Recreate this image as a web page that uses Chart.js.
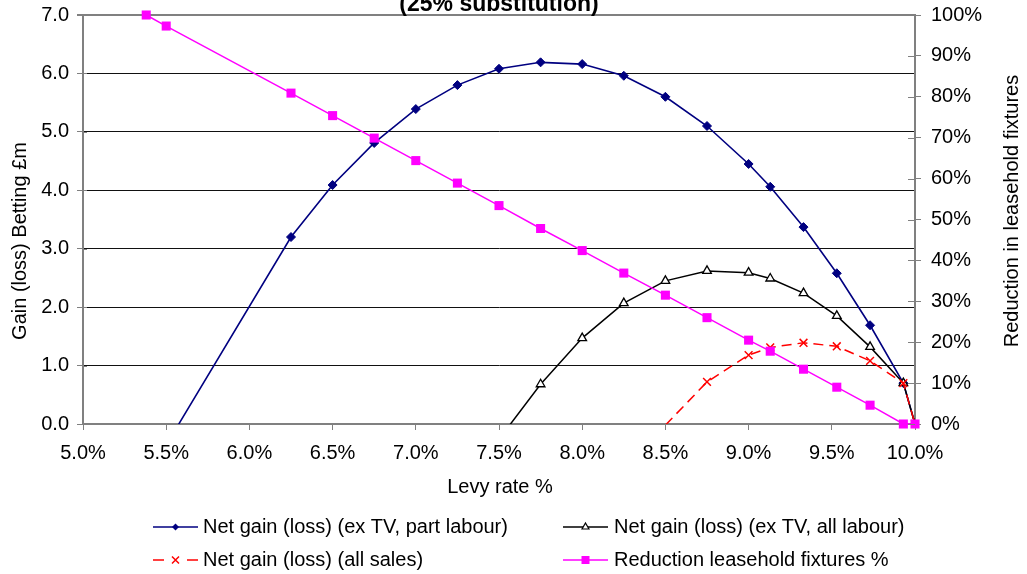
<!DOCTYPE html>
<html>
<head>
<meta charset="utf-8">
<script src="https://cdn.jsdelivr.net/npm/chart.js@4/dist/chart.umd.min.js"></script>
<style>
  html, body { margin: 0; padding: 0; background: #fff; }
  canvas { display: block; }
</style>
</head>
<body>
<canvas id="chart" width="1027" height="574"></canvas>
<script>
// Levy rate (%) at which each scenario was evaluated
const levyRate = [5.38, 5.5, 6.25, 6.5, 6.75, 7.0, 7.25, 7.5, 7.75, 8.0, 8.25, 8.5, 8.75, 9.0, 9.13, 9.33, 9.53, 9.73, 9.93, 10.0];

// Net gain (loss) in £m, betting – left axis
const gainPartLabour = [null, -0.36, 3.20, 4.09, 4.81, 5.39, 5.80, 6.08, 6.19, 6.16, 5.96, 5.60, 5.10, 4.45, 4.06, 3.37, 2.58, 1.69, 0.70, 0.00];
const gainAllLabour  = [null, null, null, null, null, null, null, -0.26, 0.68, 1.47, 2.07, 2.45, 2.62, 2.59, 2.49, 2.24, 1.85, 1.32, 0.70, 0.00];
const gainAllSales   = [null, null, null, null, null, null, null, null, null, null, null, -0.02, 0.72, 1.18, 1.31, 1.39, 1.33, 1.08, 0.70, 0.00];

// Reduction in leasehold fixtures (%) – right axis
const fixturesReduction = [100, 97.3, 80.9, 75.4, 69.9, 64.4, 58.9, 53.4, 47.8, 42.4, 36.9, 31.5, 26.0, 20.5, 17.8, 13.4, 9.0, 4.6, 0, 0];

const seriesNames = [
  'Net gain (loss) (ex TV, part labour)',
  'Net gain (loss) (ex TV, all labour)',
  'Net gain (loss) (all sales)',
  'Reduction leasehold fixtures %'
];

// Axis tick values
const levyTicks = [5.0, 5.5, 6.0, 6.5, 7.0, 7.5, 8.0, 8.5, 9.0, 9.5, 10.0];
const gainTicks = [0, 1, 2, 3, 4, 5, 6, 7];
const fixturesTicks = [0, 10, 20, 30, 40, 50, 60, 70, 80, 90, 100];

const chartTitle = '(25% substitution)';
const xTitle = 'Levy rate %';
const yTitle = 'Gain (loss) Betting £m';
const y2Title = 'Reduction in leasehold fixtures';

const FONT = '"Liberation Sans", Arial, Helvetica, sans-serif';
Chart.defaults.font.family = FONT;
Chart.defaults.font.size = 20;
Chart.defaults.color = '#000';

function toPoints(values) {
  return levyRate
    .map((x, i) => ({ x: x, y: values[i] }))
    .filter(p => p.y !== null);
}

// markers are hidden for values that fall below the axis
const radiusAbove = r => ctx => (ctx.parsed && ctx.parsed.y < 0 ? 0 : r);

const AXIS_GREY = '#808080';

// fixed axis box sizes, without extra room for overhanging tick labels
const fixedBox = (prop, size) => s => {
  s[prop] = size;
  s.paddingTop = 0; s.paddingBottom = 0; s.paddingLeft = 0; s.paddingRight = 0;
};

// Marker shapes used in the legend
function drawMarker(ctx, style, x, y, color) {
  ctx.save();
  ctx.lineWidth = 1.2;
  ctx.strokeStyle = color;
  ctx.fillStyle = color;
  ctx.beginPath();
  if (style === 'rectRot') {
    const r = 3.5;
    ctx.moveTo(x, y - r); ctx.lineTo(x + r, y); ctx.lineTo(x, y + r); ctx.lineTo(x - r, y);
    ctx.closePath(); ctx.fill();
  } else if (style === 'triangle') {
    const r = 4;
    ctx.moveTo(x, y - r);
    ctx.lineTo(x + r * 0.866, y + r * 0.5);
    ctx.lineTo(x - r * 0.866, y + r * 0.5);
    ctx.closePath();
    ctx.fillStyle = '#fff'; ctx.fill(); ctx.stroke();
  } else if (style === 'crossRot') {
    const r = 3.5;
    ctx.lineWidth = 1.5;
    ctx.moveTo(x - r, y - r); ctx.lineTo(x + r, y + r);
    ctx.moveTo(x + r, y - r); ctx.lineTo(x - r, y + r);
    ctx.stroke();
  } else if (style === 'rect') {
    const h = 4;
    ctx.rect(x - h, y - h, 2 * h, 2 * h); ctx.fill();
  }
  ctx.restore();
}

const decorations = {
  id: 'decorations',
  afterDraw(chart) {
    const ctx = chart.ctx;
    const area = chart.chartArea;
    const yS = chart.scales.y, y2S = chart.scales.y1;

    // short inner tick marks on the value axes
    ctx.save();
    ctx.strokeStyle = AXIS_GREY;
    ctx.lineWidth = 1;
    gainTicks.forEach(v => {
      const py = Math.round(yS.getPixelForValue(v)) + 0.5;
      ctx.beginPath(); ctx.moveTo(area.left, py); ctx.lineTo(area.left + 4, py); ctx.stroke();
    });
    fixturesTicks.forEach(v => {
      const py = Math.round(y2S.getPixelForValue(v)) + 0.5;
      ctx.beginPath(); ctx.moveTo(area.right - 7, py); ctx.lineTo(area.right, py); ctx.stroke();
    });
    ctx.restore();

    // chart title
    ctx.save();
    ctx.fillStyle = '#000';
    ctx.font = 'bold 23px ' + FONT;
    ctx.textAlign = 'center';
    ctx.textBaseline = 'alphabetic';
    ctx.fillText(chartTitle, (area.left + area.right) / 2, 11);

    // axis titles
    ctx.font = '20px ' + FONT;
    ctx.textBaseline = 'middle';
    ctx.fillText(xTitle, (area.left + area.right) / 2 + 1, 487);

    ctx.save();
    ctx.translate(20, 241);
    ctx.rotate(-Math.PI / 2);
    ctx.fillText(yTitle, 0, 0);
    ctx.restore();

    ctx.save();
    ctx.translate(1012, 211);
    ctx.rotate(-Math.PI / 2);
    ctx.fillText(y2Title, 0, 0);
    ctx.restore();

    // legend, two columns by two rows
    const colIcon = [153, 563];
    const colText = [203, 614];
    const rowY = [527, 560];
    const iconW = 45;
    chart.data.datasets.forEach((ds, i) => {
      const col = i % 2, row = Math.floor(i / 2);
      const x0 = colIcon[col], y = rowY[row];
      ctx.save();
      ctx.strokeStyle = ds.borderColor;
      ctx.lineWidth = 1.5;
      if (ds.borderDash) {
        ctx.beginPath(); ctx.moveTo(x0, y); ctx.lineTo(x0 + 11, y); ctx.stroke();
        ctx.beginPath(); ctx.moveTo(x0 + iconW - 11, y); ctx.lineTo(x0 + iconW, y); ctx.stroke();
      } else {
        ctx.beginPath(); ctx.moveTo(x0, y); ctx.lineTo(x0 + iconW, y); ctx.stroke();
      }
      ctx.restore();
      drawMarker(ctx, ds.pointStyle, x0 + iconW / 2, y, ds.borderColor);
      ctx.fillStyle = '#000';
      ctx.textAlign = 'left';
      ctx.textBaseline = 'middle';
      ctx.fillText(ds.label, colText[col], y);
    });
    ctx.restore();
  }
};

new Chart(document.getElementById('chart'), {
  type: 'line',
  data: {
    datasets: [
      {
        label: seriesNames[0],
        data: toPoints(gainPartLabour),
        yAxisID: 'y',
        borderColor: '#000080',
        backgroundColor: '#000080',
        borderWidth: 1.6,
        pointStyle: 'rectRot',
        pointRadius: radiusAbove(4.5),
        pointBorderWidth: 1,
        order: 4
      },
      {
        label: seriesNames[1],
        data: toPoints(gainAllLabour),
        yAxisID: 'y',
        borderColor: '#000000',
        backgroundColor: '#ffffff',
        borderWidth: 1.5,
        pointStyle: 'triangle',
        pointRadius: radiusAbove(5),
        pointBorderWidth: 1.3,
        order: 3
      },
      {
        label: seriesNames[2],
        data: toPoints(gainAllSales),
        yAxisID: 'y',
        borderColor: '#ff0000',
        backgroundColor: '#ff0000',
        borderWidth: 1.5,
        borderDash: [10, 6],
        pointStyle: 'crossRot',
        pointRadius: radiusAbove(5.5),
        pointBorderWidth: 1.5,
        order: 2
      },
      {
        label: seriesNames[3],
        data: toPoints(fixturesReduction),
        yAxisID: 'y1',
        borderColor: '#ff00ff',
        backgroundColor: '#ff00ff',
        borderWidth: 1.5,
        pointStyle: 'rect',
        pointRadius: 6.4,
        pointBorderWidth: 0,
        clip: false,
        order: 1
      }
    ]
  },
  options: {
    responsive: false,
    animation: false,
    devicePixelRatio: 1,
    layout: { padding: { top: 15, left: 0, right: 0, bottom: 0 } },
    elements: { line: { tension: 0 } },
    plugins: {
      legend: { display: false },
      title: { display: false },
      tooltip: { enabled: false }
    },
    scales: {
      x: {
        type: 'linear',
        position: 'bottom',
        min: levyTicks[0],
        max: levyTicks[levyTicks.length - 1],
        afterBuildTicks: s => { s.ticks = levyTicks.map(v => ({ value: v })); },
        afterFit: fixedBox('height', 150),
        ticks: {
          padding: 11,
          maxRotation: 0,
          autoSkip: false,
          callback: v => v.toFixed(1) + '%'
        },
        grid: { drawOnChartArea: false, tickLength: 6, color: AXIS_GREY, tickColor: AXIS_GREY },
        border: { color: AXIS_GREY, width: 2 }
      },
      y: {
        position: 'left',
        min: gainTicks[0],
        max: gainTicks[gainTicks.length - 1],
        afterBuildTicks: s => { s.ticks = gainTicks.map(v => ({ value: v })); },
        afterFit: fixedBox('width', 83),
        ticks: { padding: 8, callback: v => v.toFixed(1) },
        grid: {
          tickLength: 6,
          tickColor: AXIS_GREY,
          color: c => (c.tick && c.tick.value === gainTicks[gainTicks.length - 1] ? AXIS_GREY : '#111'),
          lineWidth: c => (c.tick && c.tick.value === gainTicks[gainTicks.length - 1] ? 2 : 1)
        },
        border: { color: AXIS_GREY, width: 2 }
      },
      y1: {
        position: 'right',
        min: fixturesTicks[0],
        max: fixturesTicks[fixturesTicks.length - 1],
        afterBuildTicks: s => { s.ticks = fixturesTicks.map(v => ({ value: v })); },
        afterFit: fixedBox('width', 112),
        ticks: { padding: 10, callback: v => v + '%' },
        grid: { drawOnChartArea: false, tickLength: 6, color: AXIS_GREY, tickColor: AXIS_GREY },
        border: { color: AXIS_GREY, width: 2 }
      }
    }
  },
  plugins: [decorations]
});
</script>
</body>
</html>
